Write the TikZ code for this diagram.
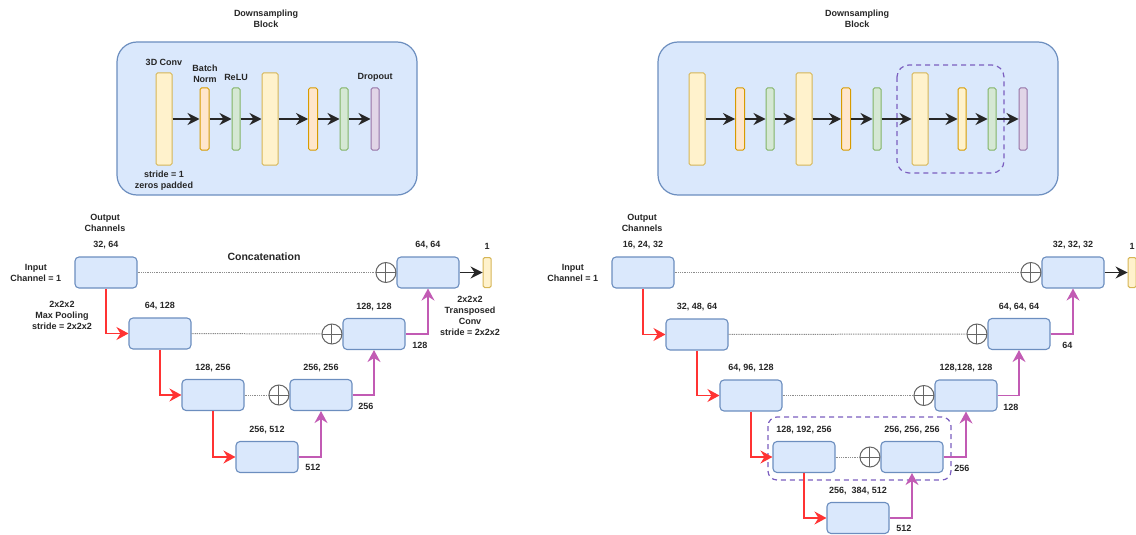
\documentclass[tikz,border=0pt]{standalone}
\usepackage{fontspec}
\setmainfont{Liberation Sans}
\usepackage{xcolor}
\usetikzlibrary{arrows.meta,positioning,fit,calc}

\definecolor{blkfill}{HTML}{DAE8FC}
\definecolor{blkdraw}{HTML}{6C8EBF}
\definecolor{convfill}{HTML}{FFF2CC}
\definecolor{convdraw}{HTML}{D6B656}
\definecolor{normfill}{HTML}{FFE6CC}
\definecolor{normdraw}{HTML}{D79B00}
\definecolor{relufill}{HTML}{D5E8D4}
\definecolor{reludraw}{HTML}{82B366}
\definecolor{dropfill}{HTML}{E1D5E7}
\definecolor{dropdraw}{HTML}{9673A6}
\definecolor{poolred}{HTML}{FF3333}
\definecolor{upmag}{HTML}{C25BB4}
\definecolor{hlpurple}{HTML}{7B5EBF}

\begin{document}
\begin{tikzpicture}[
    x=1pt, y=-1pt,
    txt/.style={align=center, inner sep=0pt, text=black!85,
                font=\fontsize{9}{11}\selectfont\bfseries},
    dsblock/.style={draw=blkdraw, fill=blkfill, rounded corners=20pt, line width=1.2pt,
                    minimum width=#1, minimum height=153pt},
    bar/.style={rounded corners=1.5pt, line width=1pt, inner sep=0pt},
    convbar/.style={bar, fill=convfill, draw=convdraw, minimum width=16pt, minimum height=92pt},
    normbar/.style={bar, fill=normfill, draw=normdraw, minimum width=9pt, minimum height=62pt},
    relubar/.style={bar, fill=relufill, draw=reludraw, minimum width=8pt, minimum height=62pt},
    dropbar/.style={bar, fill=dropfill, draw=dropdraw, minimum width=8pt, minimum height=62pt},
    outbar/.style={bar, fill=convfill, draw=convdraw, minimum width=8pt, minimum height=30pt},
    ubox/.style={draw=blkdraw, fill=blkfill, rounded corners=4pt, line width=1.1pt,
                 minimum width=62pt, minimum height=31pt, inner sep=0pt},
    concat/.style={circle, draw=black!60, fill=white, line width=1pt, minimum size=20pt, inner sep=0pt,
                   path picture={\draw[black!60, line width=1pt]
                     (path picture bounding box.north) -- (path picture bounding box.south)
                     (path picture bounding box.west) -- (path picture bounding box.east);}},
    flowarrow/.style={-{Stealth[length=12pt,width=12pt,inset=4pt]}, line width=1.5pt, black!85},
    poolarrow/.style={-{Stealth[length=12pt,width=13pt,inset=4pt]}, line width=1.4pt, poolred},
    uparrow/.style={-{Stealth[length=12pt,width=13pt,inset=4pt]}, line width=1.4pt, upmag},
    skipline/.style={draw=black!45, dash pattern=on 1pt off 0.8pt, line width=1pt},
    hlbox/.style={draw=hlpurple, line width=1.2pt, dash pattern=on 5pt off 4pt, rounded corners=12pt}
]
\useasboundingbox (0,0) rectangle (1136,535);

% ---- downsampling block, left
\node[dsblock=300pt] (blockA) at (267,118.5) {};
\node[txt] (titleA) at (266,18.5) {Downsampling\\Block};
\node[convbar] (convA1) at (164,119) {};
\node[normbar] (normA1) at (204.5,119) {};
\node[relubar] (reluA1) at (236,119) {};
\node[convbar] (convA2) at (270,119) {};
\node[normbar] (normA2) at (313,119) {};
\node[relubar] (reluA2) at (344,119) {};
\node[dropbar] (dropA)  at (375,119) {};
\node[txt] (convlblA) at (164,62) {3D Conv};
\node[txt] (normlblA) at (205,73.5) {Batch\\Norm};
\node[txt] (relulblA) at (236,77) {ReLU};
\node[txt] (droplblA) at (375,77) {Dropout};
\node[txt] (stridelblA) at (164,180.5) {stride = 1\\zeros padded};

\draw[flowarrow] (convA1) -- (normA1);
\draw[flowarrow] (normA1) -- (reluA1);
\draw[flowarrow] (reluA1) -- (convA2);
\draw[flowarrow] (convA2) -- (normA2);
\draw[flowarrow] (normA2) -- (reluA2);
\draw[flowarrow] (reluA2) -- (dropA);

% ---- downsampling block, right
\node[dsblock=400pt] (blockB) at (858,118.5) {};
\node[txt] (titleB) at (857,18.5) {Downsampling\\Block};
\node[convbar] (convB1) at (697,119) {};
\node[normbar] (normB1) at (740,119) {};
\node[relubar] (reluB1) at (770,119) {};
\node[convbar] (convB2) at (804,119) {};
\node[normbar] (normB2) at (846,119) {};
\node[relubar] (reluB2) at (877,119) {};
\node[convbar] (convB3) at (920,119) {};
\node[normbar, fill=convfill, minimum width=8pt] (normB3) at (962,119) {};
\node[relubar] (reluB3) at (992,119) {};
\node[dropbar] (dropB)  at (1023,119) {};
\draw[hlbox] (897,65) rectangle (1004,173);

\draw[flowarrow] (convB1) -- (normB1);
\draw[flowarrow] (normB1) -- (reluB1);
\draw[flowarrow] (reluB1) -- (convB2);
\draw[flowarrow] (convB2) -- (normB2);
\draw[flowarrow] (normB2) -- (reluB2);
\draw[flowarrow] (reluB2) -- (convB3);
\draw[flowarrow] (convB3) -- (normB3);
\draw[flowarrow] (normB3) -- (reluB3);
\draw[flowarrow] (reluB3) -- (dropB);

% ---- U-Net, left
\node[txt] (outchA) at (105,222.5) {Output\\Channels};
\node[ubox] (encA1) at (106,272.5) {};
\node[ubox] (encA2) at (160,333.5) {};
\node[ubox] (encA3) at (213,395) {};
\node[ubox] (encA4) at (267,457) {};
\node[ubox] (decA3) at (321,395) {};
\node[ubox] (decA2) at (374,334) {};
\node[ubox] (decA1) at (428,272.5) {};
\node[outbar, right=23pt of decA1] (outA) {};
\node[concat, left=0pt of decA1] (catA1) {};
\node[concat, left=0pt of decA2] (catA2) {};
\node[concat, left=0pt of decA3] (catA3) {};

\node[txt, above=7pt of encA1] (chA1) {32, 64};
\node[txt, above=7pt of encA2] (chA2) {64, 128};
\node[txt, above=7pt of encA3] (chA3) {128, 256};
\node[txt, above=7pt of encA4] (chA4) {256, 512};
\node[txt, above=7pt of decA3] (chA5) {256, 256};
\node[txt, above=7pt of decA2] (chA6) {128, 128};
\node[txt, above=7pt of decA1] (chA7) {64, 64};
\node[txt, above=7pt of outA]  (chA8) {1};
\node[txt, left=13pt of encA1] (inA) {Input\\Channel = 1};
\node[txt] (poolA) at (62,315) {2x2x2\\Max Pooling\\stride = 2x2x2};
\node[txt] (upconvA) at (470,315.5) {2x2x2\\Transposed\\Conv\\stride = 2x2x2};
\node[txt, font=\fontsize{10.5}{12}\selectfont\bfseries] (catlblA) at (264,256.5) {Concatenation};

\draw[skipline] (encA1) -- (catA1);
\draw[skipline] (encA2) -- (catA2);
\draw[skipline] (encA3) -- (catA3);
\draw[poolarrow] (encA1) |- (encA2);
\draw[poolarrow] (encA2) |- (encA3);
\draw[poolarrow] (encA3) |- (encA4);
\draw[uparrow] (encA4) -| node[txt, pos=0.5, below left=7pt and 0pt] (szA4) {512} (decA3);
\draw[uparrow] (decA3) -| node[txt, pos=0.5, below left=8pt and 0pt] (szA3) {256} (decA2);
\draw[uparrow] (decA2) -| node[txt, pos=0.5, below left=8pt and 0pt] (szA2) {128} (decA1);
\draw[flowarrow] (decA1) -- (outA);

% ---- U-Net, right
\node[txt] (outchB) at (642,222.5) {Output\\Channels};
\node[ubox] (encB1) at (643,272.5) {};
\node[ubox] (encB2) at (697,334.5) {};
\node[ubox] (encB3) at (751,395.5) {};
\node[ubox] (encB4) at (804,457) {};
\node[ubox] (encB5) at (858,518) {};
\node[ubox] (decB4) at (912,457) {};
\node[ubox] (decB3) at (966,395.5) {};
\node[ubox] (decB2) at (1019,334) {};
\node[ubox] (decB1) at (1073,272.5) {};
\node[outbar, right=23pt of decB1] (outB) {};
\node[concat, left=0pt of decB1] (catB1) {};
\node[concat, left=0pt of decB2] (catB2) {};
\node[concat, left=0pt of decB3] (catB3) {};
\node[concat, left=0pt of decB4] (catB4) {};
\draw[hlbox, rounded corners=9pt] (768,417) rectangle (951,480);

\node[txt, above=7pt of encB1] (chB1) {16, 24, 32};
\node[txt, above=7pt of encB2] (chB2) {32, 48, 64};
\node[txt, above=7pt of encB3] (chB3) {64, 96, 128};
\node[txt, above=7pt of encB4] (chB4) {128, 192, 256};
\node[txt, above=7pt of encB5] (chB5) {256, \ 384, 512};
\node[txt, above=7pt of decB4] (chB6) {256, 256, 256};
\node[txt, above=7pt of decB3] (chB7) {128,128, 128};
\node[txt, above=7pt of decB2] (chB8) {64, 64, 64};
\node[txt, above=7pt of decB1] (chB9) {32, 32, 32};
\node[txt, above=7pt of outB]  (chB10) {1};
\node[txt, left=13pt of encB1] (inB) {Input\\Channel = 1};

\draw[skipline] (encB1) -- (catB1);
\draw[skipline] (encB2) -- (catB2);
\draw[skipline] (encB3) -- (catB3);
\draw[skipline] (encB4) -- (catB4);
\draw[poolarrow] (encB1) |- (encB2);
\draw[poolarrow] (encB2) |- (encB3);
\draw[poolarrow] (encB3) |- (encB4);
\draw[poolarrow] (encB4) |- (encB5);
\draw[uparrow] (encB5) -| node[txt, pos=0.5, below left=7pt and 0pt] (szB5) {512} (decB4);
\draw[uparrow] (decB4) -| node[txt, pos=0.5, below left=8pt and -4pt] (szB4) {256} (decB3);
\draw[uparrow] (decB3) -| node[txt, pos=0.5, below left=8pt and 0pt] (szB3) {128} (decB2);
\draw[uparrow] (decB2) -| node[txt, pos=0.5, below left=8pt and 0pt] (szB2) {64} (decB1);
\draw[flowarrow] (decB1) -- (outB);
\end{tikzpicture}
\end{document}
